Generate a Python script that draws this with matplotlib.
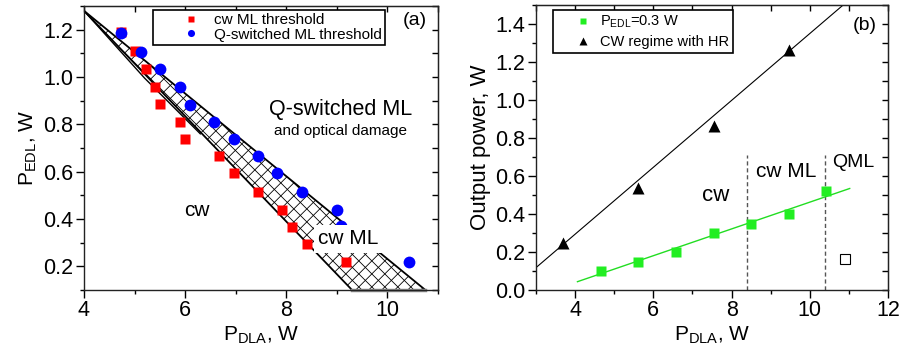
import numpy as np
import matplotlib.pyplot as plt
from matplotlib.ticker import MultipleLocator
from matplotlib.collections import LineCollection
from matplotlib.patches import Polygon
from matplotlib.transforms import IdentityTransform

plt.rcParams['font.family'] = ['Liberation Sans', 'DejaVu Sans']
plt.rcParams['mathtext.fontset'] = 'custom'
plt.rcParams['mathtext.rm'] = 'Liberation Sans'
plt.rcParams['mathtext.default'] = 'regular'

# ---- panel (a) data: thresholds vs pump power
pdla_cw = [4.74, 5.01, 5.22, 5.40, 5.51, 5.89, 5.99, 6.66, 6.96, 7.44, 7.92, 8.12, 8.41, 9.18]
pedl_cw = [1.19, 1.11, 1.035, 0.96, 0.885, 0.81, 0.74, 0.665, 0.595, 0.515, 0.44, 0.365, 0.295, 0.22]
pdla_q = [4.74, 5.12, 5.50, 5.89, 6.09, 6.57, 6.96, 7.44, 7.82, 8.31, 9.00, 9.08, 10.43]
pedl_q = [1.185, 1.107, 1.033, 0.96, 0.882, 0.81, 0.737, 0.666, 0.593, 0.515, 0.44, 0.37, 0.219]

# hatched cw ML region (apex, upper end, lower end)
region_x = [4.0, 10.75, 9.3]
region_y = [1.28, 0.1, 0.1]
inner_x = [4.0, 5.2, 6.3]
inner_y = [1.28, 0.995, 0.76]

# ---- panel (b) data: output power
pdla_b = [4.65, 5.62, 6.57, 7.54, 8.49, 9.46, 10.42]
pout_b = [0.10, 0.15, 0.20, 0.30, 0.348, 0.40, 0.52]
fit_b_x = [4.06, 11.02]
fit_b_y = [0.044, 0.535]
pdla_hr = [3.70, 5.62, 7.54, 9.46]
pout_hr = [0.25, 0.54, 0.862, 1.262]
fit_hr_x = [3.0, 10.9]
fit_hr_y = [0.118, 1.51]
open_x = [10.9]
open_y = [0.163]
regime_edges = [8.4, 10.4]
regime_top = 0.71

fig = plt.figure(figsize=(9.01, 3.55), dpi=100)
ax = fig.add_axes([0.0932, 0.183, 0.393, 0.80])
bx = fig.add_axes([0.5949, 0.183, 0.3907, 0.802])


def style_axes(a, xmaj, ymaj, ymin):
    a.xaxis.set_major_locator(MultipleLocator(xmaj))
    a.xaxis.set_minor_locator(MultipleLocator(1))
    a.yaxis.set_major_locator(MultipleLocator(ymaj))
    a.yaxis.set_minor_locator(MultipleLocator(ymin))
    a.tick_params(which='major', direction='out', length=5.5, width=1, labelsize=15.5, pad=2)
    a.tick_params(which='minor', direction='out', length=3, width=1)
    for s in a.spines.values():
        s.set_linewidth(1)
        s.set_color('#222222')
    top = a.secondary_xaxis('top')
    top.xaxis.set_major_locator(MultipleLocator(1))
    top.tick_params(direction='in', length=4, width=1, labeltop=False)
    right = a.secondary_yaxis('right')
    right.yaxis.set_major_locator(MultipleLocator(ymin))
    right.tick_params(direction='in', length=4, width=1, labelright=False)


# ---------------- panel (a)
ax.set_xlim(4, 11)
ax.set_ylim(0.1, 1.3)
style_axes(ax, 2, 0.2, 0.1)
ax.xaxis.set_major_formatter(plt.FuncFormatter(lambda v, p: '%d' % v))

poly = Polygon(np.column_stack([region_x, region_y]), closed=True,
               facecolor='white', edgecolor='none', zorder=1)
ax.add_patch(poly)

# cross hatch drawn in pixel space so the cells are square
fig.canvas.draw()
pts = ax.transData.transform(np.column_stack([region_x, region_y]))
x0, y0 = pts.min(axis=0) - 20
x1, y1 = pts.max(axis=0) + 20
segs = []
span = (x1 - x0) + (y1 - y0)
for c in np.arange(-span, span, 13.0):
    segs.append([(x0, y0 + c), (x1, y0 + c + (x1 - x0))])
    segs.append([(x0, y1 - c), (x1, y1 - c - (x1 - x0))])
hatch = LineCollection(segs, colors='black', linewidths=0.6,
                       transform=IdentityTransform(), zorder=1.5)
ax.add_collection(hatch, autolim=False)
hatch.set_clip_path(poly)

ax.plot([region_x[0], region_x[1]], [region_y[0], region_y[1]], color='black', lw=1.3, zorder=2)
ax.plot([region_x[0], region_x[2]], [region_y[0], region_y[2]], color='black', lw=1.3, zorder=2)
ax.plot(inner_x, inner_y, color='black', lw=1.0, zorder=2)
ax.plot([region_x[2], region_x[1]], [region_y[2], region_y[1]], color='#888888', lw=2.5,
        zorder=2.5, clip_on=False)

ax.plot(pdla_cw, pedl_cw, 's', color='#ff0000', ms=7.5, mec='none', zorder=3,
        label='cw ML threshold')
ax.plot(pdla_q, pedl_q, 'o', color='#0000ff', ms=8.5, mec='none', zorder=3.2,
        label='Q-switched ML threshold')

ax.text(9.07, 0.864, 'Q-switched ML', fontsize=15.5, ha='center', va='center')
ax.text(9.07, 0.771, 'and optical damage', fontsize=11, ha='center', va='center')
ax.text(6.24, 0.437, 'cw', fontsize=15, ha='center', va='center')
ax.text(9.23, 0.316, 'cw ML', fontsize=15, ha='center', va='center', zorder=5,
        bbox=dict(facecolor='white', edgecolor='none', pad=3))
ax.text(0.935, 0.95, '(a)', transform=ax.transAxes, fontsize=14, ha='center', va='center')

ax.set_xlabel('$P_{DLA}$, W', fontsize=15, labelpad=2)
ax.set_ylabel('$P_{EDL}$, W', fontsize=15, labelpad=3)

leg = ax.legend(loc='upper left', bbox_to_anchor=(0.195, 0.986), fontsize=11,
                frameon=True, fancybox=False, edgecolor='black', framealpha=1,
                borderpad=0.2, labelspacing=0.05, handlelength=4.6,
                handletextpad=-0.8, markerscale=0.6, borderaxespad=0)
leg.get_frame().set_linewidth(1.2)
leg.set_zorder(6)

# ---------------- panel (b)
bx.set_xlim(3, 12)
bx.set_ylim(0, 1.5)
style_axes(bx, 2, 0.2, 0.1)

bx.plot(fit_hr_x, fit_hr_y, color='black', lw=0.8, zorder=2)
bx.plot(fit_b_x, fit_b_y, color='#22dd22', lw=1.0, zorder=2)
for xe in regime_edges:
    bx.plot([xe, xe], [0, regime_top], color='#555555', lw=1, ls=(0, (3, 2)), zorder=1.5)
bx.plot(pdla_b, pout_b, 's', color='#22ee22', ms=7.5, mec='none', zorder=3,
        label='$P_{EDL}$=0.3 W')
bx.plot(pdla_hr, pout_hr, '^', color='black', ms=9, mec='none', zorder=3,
        label='CW regime with HR')
bx.plot(open_x, open_y, 's', mfc='white', mec='black', mew=0.8, ms=7.5, zorder=3)

bx.text(7.6, 0.50, 'cw', fontsize=16, ha='center', va='center')
bx.text(9.39, 0.627, 'cw ML', fontsize=15, ha='center', va='center')
bx.text(11.11, 0.671, 'QML', fontsize=14, ha='center', va='center')
bx.text(0.935, 0.93, '(b)', transform=bx.transAxes, fontsize=14, ha='center', va='center')

bx.set_xlabel('$P_{DLA}$, W', fontsize=15, labelpad=2)
bx.set_ylabel('Output power, W', fontsize=16, labelpad=3)

leg2 = bx.legend(loc='upper left', bbox_to_anchor=(0.048, 0.983), fontsize=10.5,
                 frameon=True, fancybox=False, edgecolor='black', framealpha=1,
                 borderpad=0.25, labelspacing=0.35, handlelength=3.6,
                 handletextpad=-0.6, markerscale=0.6, borderaxespad=0)
leg2.get_frame().set_linewidth(1.2)

fig.savefig('out.png', dpi=100)
